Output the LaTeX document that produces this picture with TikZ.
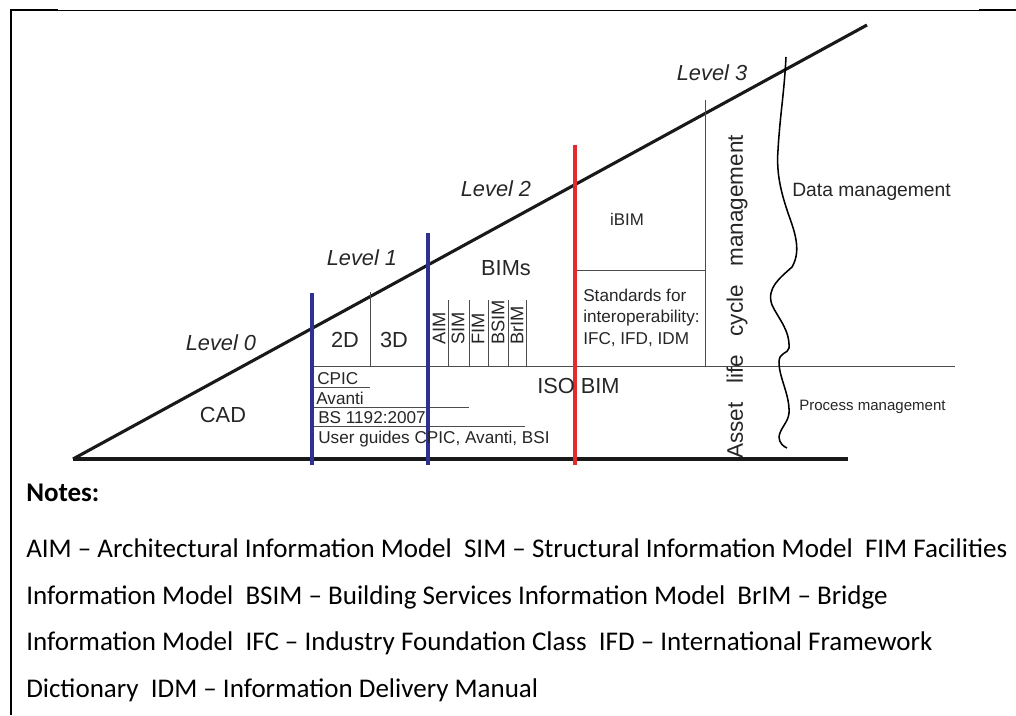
\documentclass[tikz,border=0pt]{standalone}
\usepackage{fontspec}
\setmainfont{Liberation Sans}
\newfontfamily\notesfont{Carlito}
\definecolor{bimblue}{HTML}{2E3192}
\definecolor{bimred}{HTML}{E52A2F}
\newcommand{\lvlfont}{\fontsize{15.5}{18}\selectfont\itshape}
\newcommand{\bigfont}{\fontsize{15.5}{18}\selectfont}
\newcommand{\smallfont}{\fontsize{12.2}{14.6}\selectfont}
\newcommand{\notefont}{\notesfont\fontsize{19.2}{23}\selectfont}

\begin{document}
\begin{tikzpicture}[x=0.025cm,y=-0.025cm,
    thinline/.style={draw=black!70,line width=0.7pt},
    thickline/.style={draw=black!90,line width=2.2pt},
    levelbar/.style={line width=2.8pt},
    lbl/.style={inner sep=0pt,text=black!85},
    noteline/.style={inner sep=0pt,anchor=base west,font=\notefont}]
\useasboundingbox (0,0) rectangle (1016,715);

% frame
\draw[line width=1.4pt] (11,9.3) -- (11,715);
\draw[line width=0.7pt] (11,10) -- (1016,10);
\draw[line width=2pt] (11,10) -- (58,10);
\draw[line width=2pt] (979,10) -- (1016,10);

% wedge
\coordinate (corner) at (73,459);
\coordinate (apex) at (867,25);
\coordinate (baseend) at (848,459);
\draw[thickline] (corner) -- (apex);
\draw[thickline] (corner) -- (baseend);

% grid lines
\draw[thinline] (312,366) -- (955,366);
\draw[thinline] (370,292) -- (370,366);
\foreach \x in {448,469,488,508,526}
    \draw[thinline] (\x,300) -- (\x,366);
\draw[thinline] (705,100) -- (705,366);
\draw[thinline] (575,270) -- (705,270);
\draw[thinline] (312,387) -- (370,387);
\draw[thinline] (312,407) -- (469,407);
\draw[thinline] (312,426) -- (525,426);

% level bars
\draw[levelbar,bimblue] (312,293) -- (312,465);
\draw[levelbar,bimblue] (428,233) -- (428,465);
\draw[levelbar,bimred] (575,145) -- (575,465);

% data / process boundary
\draw[line width=1.1pt] (786,57) .. controls (784,95) and (780,115) .. (778,150)
    .. controls (776,175) and (782,195) .. (788,213)
    .. controls (794,230) and (802,250) .. (792,267)
    .. controls (780,278) and (766,288) .. (772,305)
    .. controls (778,318) and (790,330) .. (789,348)
    .. controls (788,354) and (779,352) .. (779,362)
    .. controls (779,378) and (790,395) .. (789,413)
    .. controls (788,423) and (780,428) .. (779,437)
    .. controls (779,443) and (784,447) .. (787,448);

% levels
\node[lbl,font=\lvlfont,anchor=base] (lvl0) at (221,350) {Level 0};
\node[lbl,font=\lvlfont,anchor=base] (lvl1) at (362,265) {Level 1};
\node[lbl,font=\lvlfont,anchor=base] (lvl2) at (496,197) {Level 2};
\node[lbl,font=\lvlfont,anchor=base] (lvl3) at (712,81) {Level 3};

% level 0 / 1
\node[lbl,font=\bigfont,anchor=base] (cad) at (223,422) {CAD};
\node[lbl,font=\bigfont,anchor=base] (twod) at (345,347) {2D};
\node[lbl,font=\bigfont,anchor=base] (threed) at (394,347) {3D};
\node[lbl,font=\smallfont,anchor=base west] (cpic) at (317,384) {CPIC};
\node[lbl,font=\smallfont,anchor=base west] (avanti) at (316,404) {Avanti};
\node[lbl,font=\smallfont,anchor=base west] (bs) at (318,423) {BS 1192:2007};
\node[lbl,font=\smallfont,anchor=base west] (guides) at (318,443)
    {User guides CPIC, Avanti, BSI};

% level 2
\node[lbl,font=\bigfont,anchor=base] (bims) at (506,275) {BIMs};
\foreach \name/\x in {AIM/439,SIM/458,FIM/478,BSIM/498,BrIM/517}
    \node[lbl,font=\fontsize{13}{15}\selectfont,rotate=90,anchor=west]
        (m\name) at (\x,345) {\name};
\node[lbl,font=\bigfont,anchor=base west] (isobim) at (537,393) {ISO BIM};

% level 3
\node[lbl,font=\fontsize{12}{14}\selectfont,anchor=base] (ibim) at (627,225) {iBIM};
\node[lbl,font=\smallfont,anchor=base west,align=left] (stds) at (583,344)
    {Standards for\\[0.6pt]interoperability:\\[0.6pt]IFC, IFD, IDM};
\node[lbl,font=\fontsize{16}{19}\selectfont,rotate=90] (asset) at (737,297)
    {Asset~~~life~~~cycle~~~management};
\node[lbl,font=\fontsize{13.7}{16}\selectfont,anchor=base west] (datam) at (792,197)
    {Data management};
\node[lbl,font=\fontsize{10.7}{13}\selectfont,anchor=base west] (procm) at (799,410)
    {Process management};

% notes
\node[noteline,font=\notefont\bfseries] (notes) at (26,501) {Notes:};
\node[noteline] (note1) at (26,557)
    {AIM \textendash{} Architectural Information Model\ \ SIM \textendash{} Structural Information Model\ \ FIM Facilities};
\node[noteline] (note2) at (26,604)
    {Information Model\ \ BSIM \textendash{} Building Services Information Model\ \ BrIM \textendash{} Bridge};
\node[noteline] (note3) at (26,650)
    {Information Model\ \ IFC \textendash{} Industry Foundation Class\ \ IFD \textendash{} International Framework};
\node[noteline] (note4) at (26,697)
    {Dictionary\ \ IDM \textendash{} Information Delivery Manual};

\end{tikzpicture}
\end{document}
